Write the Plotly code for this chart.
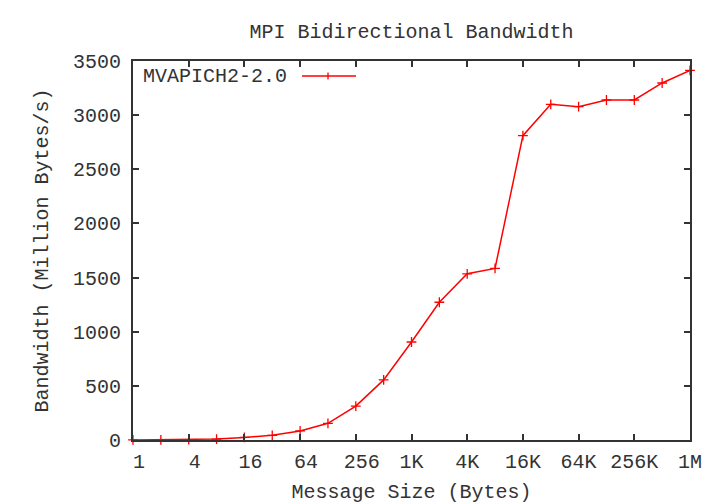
import plotly.graph_objects as go
import math

# Data
sizes = [1, 2, 4, 8, 16, 32, 64, 128, 256, 512, 1024, 2048, 4096, 8192,
         16384, 32768, 65536, 131072, 262144, 524288, 1048576]
bandwidth = [1, 2, 4, 9, 24, 43, 84, 154, 313, 555, 905, 1272, 1535, 1585,
             2810, 3100, 3078, 3140, 3140, 3297, 3414]
series_name = "MVAPICH2-2.0"
xtick_vals = [1, 4, 16, 64, 256, 1024, 4096, 16384, 65536, 262144, 1048576]
xtick_text = ["\u00a01", "\u00a04", "\u00a016", "\u00a064", "\u00a0256",
              "1K", "4K", "16K", "64K", "256K", "1M"]
ytick_vals = [0, 500, 1000, 1500, 2000, 2500, 3000, 3500]

FONT = "Liberation Mono"
FS = 20
RED = "#ff0000"
TXT = "#333333"

fig = go.Figure()
fig.add_trace(go.Scatter(
    x=sizes, y=bandwidth, mode="lines+markers", name=series_name,
    line=dict(color=RED, width=1.5),
    marker=dict(symbol="cross-thin", size=7, line=dict(color=RED, width=1.3), color=RED),
    cliponaxis=False, showlegend=False,
))

fig.update_layout(
    width=720, height=504,
    margin=dict(l=133, r=30, t=61, b=64, autoexpand=False),
    paper_bgcolor="white", plot_bgcolor="white",
    font=dict(family=FONT, size=FS, color=TXT),
    title=dict(text="MPI Bidirectional Bandwidth", x=(133 + 690) / 2 / 720, xanchor="center",
               y=1 - 31 / 504, yanchor="middle", yref="container", automargin=False,
               font=dict(family=FONT, size=FS, color=TXT)),
    showlegend=False,
)
fig.update_xaxes(
    type="log", range=[0, math.log10(1048576)], automargin=False,
    tickvals=xtick_vals, ticktext=xtick_text,
    ticks="inside", ticklen=6, tickwidth=1.5, tickcolor="#333333",
    showline=True, linecolor="#333333", linewidth=2, mirror="ticks",
    showgrid=False, zeroline=False, ticklabelstandoff=2,
    title=dict(text="Message Size (Bytes)", standoff=12, font=dict(family=FONT, size=FS)),
)
fig.update_yaxes(
    range=[0, 3500], tickvals=ytick_vals, automargin=False,
    ticks="inside", ticklen=6, tickwidth=1.5, tickcolor="#333333",
    showline=True, linecolor="#333333", linewidth=2, mirror="ticks",
    showgrid=False, zeroline=False, ticklabelstandoff=6,
    title=dict(text="Bandwidth (Million Bytes/s)", standoff=19, font=dict(family=FONT, size=FS)),
)

# manual gnuplot-style legend (text left, sample right)
pw, ph = 557.0, 379.0
ly = (440 - 76) / ph
fig.add_annotation(x=(289 - 133) / pw, y=ly, xref="paper", yref="paper",
                   text=series_name, showarrow=False, xanchor="right", yanchor="middle",
                   font=dict(family=FONT, size=FS, color=TXT))
fig.add_shape(type="line", xref="paper", yref="paper",
              x0=(302 - 133) / pw, x1=(356 - 133) / pw, y0=ly, y1=ly,
              line=dict(color=RED, width=1.5))
cx = (328 - 133) / pw
fig.add_shape(type="line", xref="paper", yref="paper",
              x0=cx, x1=cx, y0=ly - 3.5 / ph, y1=ly + 3.5 / ph,
              line=dict(color=RED, width=1.3))

fig.write_html("out.html", config={"displayModeBar": False},
               post_script="document.body.style.margin='0';document.body.style.padding='0';")
